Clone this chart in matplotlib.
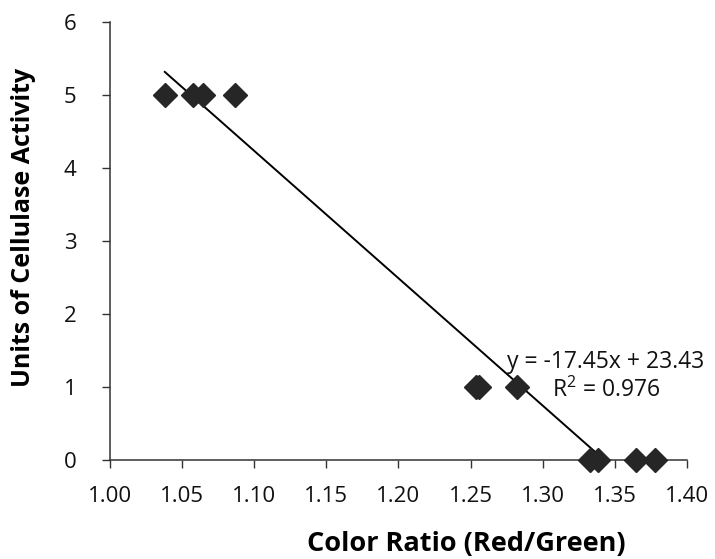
import numpy as np
import matplotlib
matplotlib.use("Agg")
import matplotlib.pyplot as plt

# data
color_ratio = [1.038, 1.0575, 1.0645, 1.0867,
               1.254, 1.256, 1.282,
               1.333, 1.338, 1.365, 1.378]
units_activity = [5, 5, 5, 5,
                  1, 1, 1,
                  0, 0, 0, 0]

# linear trendline as printed on the chart
slope = -17.45
intercept = 23.43
r_squared = 0.976

x_ticks = [1.00, 1.05, 1.10, 1.15, 1.20, 1.25, 1.30, 1.35, 1.40]
y_ticks = [0, 1, 2, 3, 4, 5, 6]

plt.rcParams["font.family"] = ["Open Sans", "DejaVu Sans"]
plt.rcParams["mathtext.fontset"] = "custom"
plt.rcParams["mathtext.rm"] = "Open Sans"
plt.rcParams["mathtext.default"] = "rm"

fig = plt.figure(figsize=(7.15, 5.59), dpi=100)
ax = fig.add_axes([0.1538, 0.1771, 0.8070, 0.7835])

xs = np.array([min(color_ratio), max(color_ratio)])
ax.plot(xs, slope * xs + intercept, color="black", lw=1.4, zorder=2)
ax.plot(color_ratio, units_activity, linestyle="none", marker="D", ms=12,
        color="#262626", zorder=3, clip_on=False)

ax.set_xlim(1.00, 1.40)
ax.set_ylim(0, 6)
ax.set_xticks(x_ticks, labels=[f"{v:.2f}" for v in x_ticks])
ax.set_yticks(y_ticks)
ax.tick_params(axis="both", direction="out", length=6, width=1,
               color="#333333", labelsize=16, labelcolor="#111111")
ax.tick_params(axis="x", pad=13)
ax.tick_params(axis="y", pad=18)

for side in ("top", "right"):
    ax.spines[side].set_visible(False)
for side in ("left", "bottom"):
    ax.spines[side].set_color("#333333")
    ax.spines[side].set_linewidth(1.1)

ax.set_xlabel("Color Ratio (Red/Green)", fontsize=19.5, fontweight="bold")
ax.set_ylabel("Units of Cellulase Activity", fontsize=18, fontweight="bold")
ax.xaxis.set_label_coords(0.617, -0.163)
ax.yaxis.set_label_coords(-0.128, 0.53)

ax.text(1.3438, 1.342, f"y = {slope:.2f}x + {intercept:.2f}", fontsize=16.5,
        ha="center", va="center", color="#111111")
ax.text(1.3438, 0.959, f"R$^2$ = {r_squared:.3f}", fontsize=16.5,
        ha="center", va="center", color="#111111")

fig.savefig("out.png", dpi=100)
